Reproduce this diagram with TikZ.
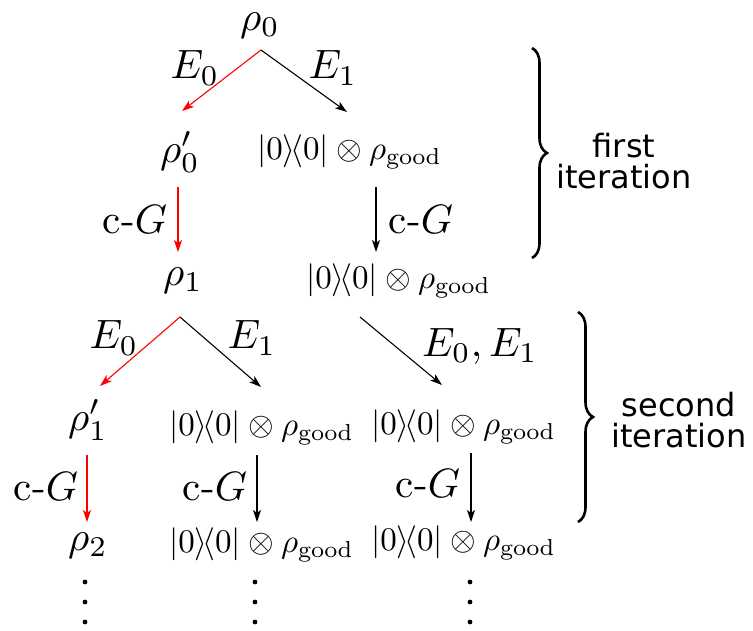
\documentclass[tikz,border=0pt]{standalone}
\usepackage{fontspec}
\newfontfamily\dejavu{DejaVu Sans}
\usetikzlibrary{arrows.meta,decorations.pathreplacing}
\newcommand{\bigtxt}[1]{\scalebox{4.1}{#1}}
\newcommand{\sttxt}[1]{\scalebox{3.3}{#1}}
\newcommand{\goodstate}{\sttxt{$|0\rangle\!\langle 0|\otimes\rho_{\mathrm{good}}$}}
\begin{document}
\begin{tikzpicture}[x=1pt,y=-1pt,
  every node/.style={inner sep=0pt},
  bigmath/.style={font=\normalsize},
  statetext/.style={font=\normalsize, anchor=west},
  sidelabel/.style={font=\fontsize{32}{31}\selectfont\dejavu, align=center},
  conn/.style={line width=1.1pt, -{Stealth[length=12pt,width=8pt,inset=3pt]}},
  redconn/.style={conn, red},
  bracestyle/.style={line width=2.6pt, decorate, decoration={brace, amplitude=15pt}}
]
\useasboundingbox (0,0) rectangle (753,630);
% first level
\node[bigmath] (r0) at (260,26) {\bigtxt{$\rho_0$}};
\node[bigmath] (e0a) at (195,68) {\bigtxt{$E_0$}};
\node[bigmath] (e1a) at (333,68) {\bigtxt{$E_1$}};
\node[bigmath] (r0p) at (180,152) {\bigtxt{$\rho_0'$}};
\node[statetext] (g1) at (257,152) {\goodstate};
\node[bigmath] (cg1) at (135,220) {\bigtxt{c-$G$}};
\node[bigmath] (cg2) at (421,220) {\bigtxt{c-$G$}};
\node[bigmath] (r1) at (183,281) {\bigtxt{$\rho_1$}};
\node[statetext] (g2) at (306,281) {\goodstate};
% second level
\node[bigmath] (e0b) at (114,338) {\bigtxt{$E_0$}};
\node[bigmath] (e1b) at (252,338) {\bigtxt{$E_1$}};
\node[bigmath] (e01) at (480,346) {\bigtxt{$E_0, E_1$}};
\node[bigmath] (r1p) at (88,420) {\bigtxt{$\rho_1'$}};
\node[statetext] (g3) at (169,428) {\goodstate};
\node[statetext] (g4) at (371,427) {\goodstate};
\node[bigmath] (cg3) at (46,487) {\bigtxt{c-$G$}};
\node[bigmath] (cg4) at (215,487) {\bigtxt{c-$G$}};
\node[bigmath] (cg5) at (428,484) {\bigtxt{c-$G$}};
\node[bigmath] (r2) at (88,546) {\bigtxt{$\rho_2$}};
\node[statetext] (g5) at (169,545) {\goodstate};
\node[statetext] (g6) at (371,543) {\goodstate};
% side labels
\node[sidelabel] (it1) at (624,161) {first\\iteration};
\node[sidelabel] (it2) at (679,420) {second\\iteration};
% connector coordinates
\coordinate (a0) at (261,50);
\coordinate (a0l) at (182,111);
\coordinate (a0r) at (347,112);
\coordinate (v1s) at (178,187);
\coordinate (v1e) at (178,252);
\coordinate (v2s) at (376,187);
\coordinate (v2e) at (376,252);
\coordinate (a1) at (180,317);
\coordinate (a1l) at (100,386);
\coordinate (a1r) at (261,387);
\coordinate (a2) at (360,317);
\coordinate (a2r) at (442,385);
\coordinate (v3s) at (87,455);
\coordinate (v3e) at (87,522);
\coordinate (v4s) at (257,455);
\coordinate (v4e) at (257,522);
\coordinate (v5s) at (471,453);
\coordinate (v5e) at (471,522);
\draw[redconn] (a0) -- (a0l);
\draw[conn] (a0) -- (a0r);
\draw[redconn] (v1s) -- (v1e);
\draw[conn] (v2s) -- (v2e);
\draw[redconn] (a1) -- (a1l);
\draw[conn] (a1) -- (a1r);
\draw[conn] (a2) -- (a2r);
\draw[redconn] (v3s) -- (v3e);
\draw[conn] (v4s) -- (v4e);
\draw[conn] (v5s) -- (v5e);
% dots
\foreach \x in {85,255,470}{
  \foreach \y in {582,602,622}{
    \fill (\x,\y) circle (2.4pt);
  }
}
% braces
\draw[bracestyle] (532,48) -- (532,258);
\draw[bracestyle] (578,312) -- (578,522);
\end{tikzpicture}
\end{document}
